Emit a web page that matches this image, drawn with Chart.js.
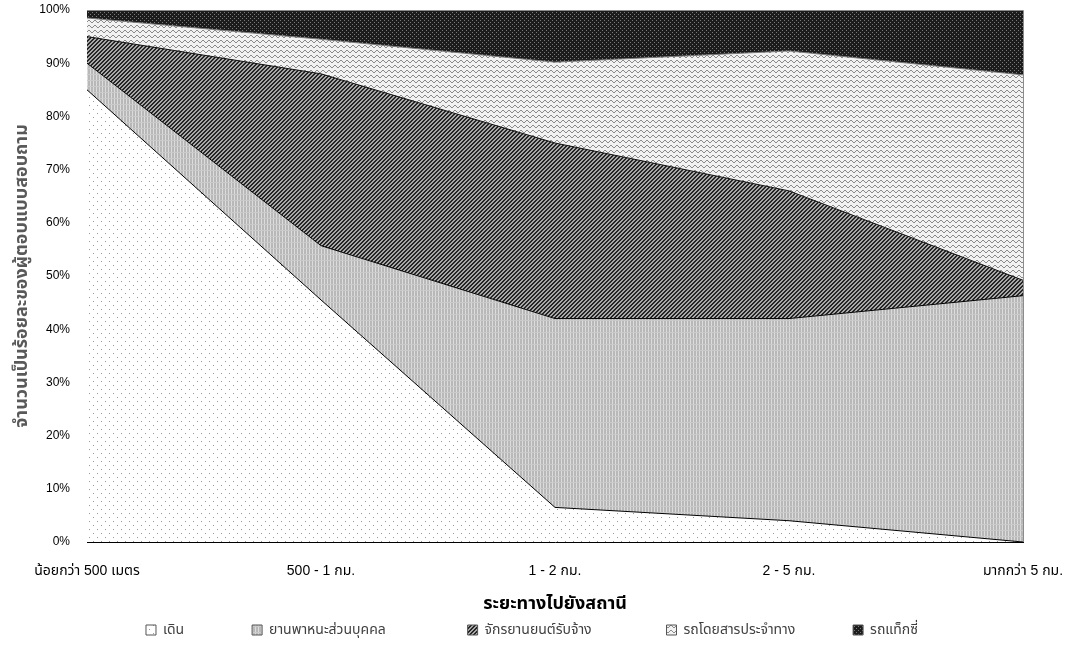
<!DOCTYPE html>
<html>
<head>
<meta charset="utf-8">
<script src="https://cdn.jsdelivr.net/npm/chart.js@4.4.1/dist/chart.umd.min.js"></script>
<style>
  html, body { margin: 0; padding: 0; background: #fff; }
  #wrap { width: 1079px; height: 651px; }
</style>
</head>
<body>
<div id="wrap"><canvas id="chart" width="1079" height="651"></canvas></div>
<script>
// distance categories
var categories = ['น้อยกว่า 500 เมตร', '500 - 1 กม.', '1 - 2 กม.', '2 - 5 กม.', 'มากกว่า 5 กม.'];

// share of respondents (%) per mode
var walk      = [85, 45.5, 6.5, 4, 0];
var privateV  = [5, 10.2, 35.5, 38, 46.3];
var motoTaxi  = [5, 32.3, 33, 24, 2.9];
var bus       = [3.5, 6.5, 15.2, 26.3, 38.6];
var taxi      = [1.5, 5.5, 9.8, 7.7, 12.2];

var seriesNames = ['เดิน', 'ยานพาหนะส่วนบุคคล', 'จักรยานยนต์รับจ้าง', 'รถโดยสารประจำทาง', 'รถแท็กซี่'];

var FONT = '"Liberation Sans", Arial, "Noto Sans Thai", "Noto Sans", sans-serif';

// pattern helpers
function makePattern(w, h, draw) {
  var c = document.createElement('canvas');
  c.width = w; c.height = h;
  var g = c.getContext('2d');
  draw(g, w, h);
  return document.getElementById('chart').getContext('2d').createPattern(c, 'repeat');
}

var pWalk = makePattern(8, 8, function (g) {
  g.fillStyle = '#fff'; g.fillRect(0, 0, 8, 8);
  g.fillStyle = '#9a9a9a';
  g.fillRect(1, 1, 1, 1);
  g.fillRect(5, 5, 1, 1);
});

var pPrivate = makePattern(6, 6, function (g) {
  g.fillStyle = '#b8b8b8'; g.fillRect(0, 0, 6, 6);
  g.fillStyle = '#dcdcdc';
  g.fillRect(0, 0, 1, 6);
  g.fillRect(3, 0, 1, 6);
  g.fillStyle = '#cacaca';
  g.fillRect(0, 2, 6, 1);
});

var pMoto = makePattern(4, 4, function (g) {
  g.fillStyle = '#a8a8a8'; g.fillRect(0, 0, 4, 4);
  g.fillStyle = '#262626';
  for (var i = 0; i < 4; i++) {
    g.fillRect((3 - i + 4) % 4, i, 1, 1);
    g.fillRect((4 - i + 4) % 4, i, 1, 1);
  }
});

var pBus = makePattern(6, 5, function (g) {
  g.fillStyle = '#f2f2f2'; g.fillRect(0, 0, 6, 5);
  g.fillStyle = '#8a8a8a';
  g.fillRect(0, 1, 1, 1);
  g.fillRect(1, 2, 1, 1);
  g.fillRect(2, 2, 1, 1);
  g.fillRect(3, 1, 1, 1);
  g.fillRect(4, 0, 1, 1);
  g.fillRect(5, 0, 1, 1);
});

var pTaxi = makePattern(4, 4, function (g) {
  g.fillStyle = '#1c1c1c'; g.fillRect(0, 0, 4, 4);
  g.fillStyle = '#7a7a7a';
  g.fillRect(0, 0, 1, 1);
  g.fillRect(2, 2, 1, 1);
});

function ds(label, data, bg, fill, line) {
  return {
    label: label,
    data: data,
    backgroundColor: bg,
    borderColor: line,
    borderWidth: 1,
    fill: fill,
    pointRadius: 0,
    tension: 0
  };
}

// spacing after each legend item
var EN = '\u2002';
var legendGaps = [EN.repeat(8) + ' ', EN.repeat(10) + ' ', EN.repeat(9) + ' ', EN.repeat(6) + '  ', ''];

// thin grey frame round the plot area
var plotFrame = {
  id: 'plotFrame',
  afterDatasetsDraw: function (chart) {
    var a = chart.chartArea, c = chart.ctx;
    c.save();
    c.strokeStyle = '#8c8c8c';
    c.lineWidth = 1;
    c.beginPath();
    c.moveTo(a.left, a.top + 0.5);
    c.lineTo(a.right + 0.5, a.top + 0.5);
    c.lineTo(a.right + 0.5, a.bottom);
    c.stroke();
    c.restore();
  }
};

new Chart(document.getElementById('chart').getContext('2d'), {
  type: 'line',
  data: {
    labels: categories,
    datasets: [
      ds(seriesNames[0], walk, pWalk, 'origin', '#000'),
      ds(seriesNames[1], privateV, pPrivate, '-1', '#000'),
      ds(seriesNames[2], motoTaxi, pMoto, '-1', '#111'),
      ds(seriesNames[3], bus, pBus, '-1', '#777'),
      ds(seriesNames[4], taxi, pTaxi, '-1', '#1c1c1c')
    ]
  },
  plugins: [plotFrame],
  options: {
    responsive: false,
    animation: false,
    layout: { padding: { top: 0, right: 26, left: 11, bottom: 4 } },
    plugins: {
      legend: {
        position: 'bottom',
        labels: {
          boxWidth: 10, boxHeight: 10, padding: 8,
          color: '#404040',
          font: { family: FONT, size: 14 },
          generateLabels: function (chart) {
            var items = Chart.defaults.plugins.legend.labels.generateLabels(chart);
            items.forEach(function (it, i) {
              it.lineWidth = 1;
              it.strokeStyle = '#555';
              it.text = it.text + legendGaps[i];
            });
            return items;
          }
        }
      },
      tooltip: { enabled: false }
    },
    scales: {
      x: {
        offset: false,
        grid: { display: false, drawTicks: false },
        border: { display: true, color: '#000' },
        ticks: { color: '#000', font: { family: FONT, size: 14 }, maxRotation: 0, padding: 21 },
        title: { display: true, text: 'ระยะทางไปยังสถานี', color: '#000', font: { family: FONT, size: 18, weight: 'bold' }, padding: { top: 0, bottom: 0 } },
        afterFit: function (s) { s.height = 73; s.paddingRight = 56; }
      },
      y: {
        stacked: true,
        min: 0, max: 100,
        grid: { display: false, drawTicks: false },
        border: { display: true, color: '#000' },
        ticks: { stepSize: 10, color: '#000', font: { family: FONT, size: 12 }, padding: 17,
          callback: function (v) { return v + '%'; } },
        title: { display: true, text: 'จำนวนเป็นร้อยละของผู้ตอบแบบสอบถาม', color: '#595959', font: { family: FONT, size: 18, weight: 'bold' }, padding: 0 },
        afterFit: function (s) { s.width = 76; s.paddingTop = 10; s.paddingBottom = 0; }
      }
    }
  }
});
</script>
</body>
</html>
